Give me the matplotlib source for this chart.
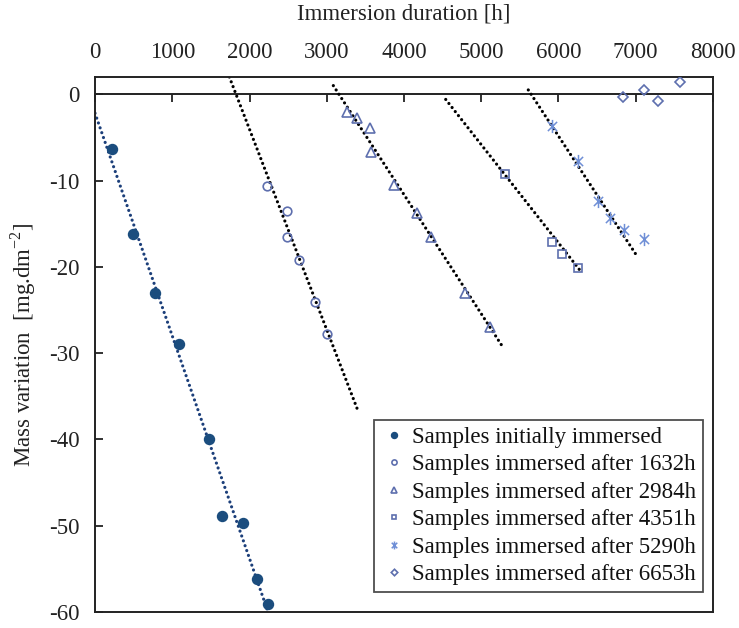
import numpy as np
import matplotlib
matplotlib.use("Agg")
import matplotlib.pyplot as plt
from matplotlib.path import Path

plt.rcParams['font.family'] = ['Liberation Serif', 'DejaVu Serif']
plt.rcParams['mathtext.fontset'] = 'custom'
plt.rcParams['mathtext.rm'] = 'Liberation Serif'
plt.rcParams['axes.unicode_minus'] = False

# mass variation of each batch vs immersion time
x_initial = [216, 488, 777, 1091, 1480, 1640, 1920, 2093, 2235]
y_initial = [-6.3, -16.2, -23.0, -29.0, -39.9, -48.9, -49.7, -56.2, -59.1]

x_1632 = [2222, 2481, 2481, 2645, 2848, 2999]
y_1632 = [-10.6, -13.5, -16.5, -19.2, -24.1, -27.8]

x_2984 = [3258, 3388, 3560, 3573, 3870, 4164, 4350, 4790, 5113]
y_2984 = [-2.1, -2.7, -3.9, -6.7, -10.5, -13.8, -16.5, -23.0, -27.0]

x_4351 = [5307, 5912, 6050, 6257]
y_4351 = [-9.2, -17.1, -18.5, -20.1]

x_5290 = [5912, 6257, 6516, 6667, 6848, 7111]
y_5290 = [-3.7, -7.7, -12.4, -14.3, -15.7, -16.8]

x_6653 = [6839, 7107, 7292, 7573]
y_6653 = [-0.3, 0.46, -0.8, 1.4]

# linear trend lines (start / end points)
trend_x = [[0, 2240], [1739, 3409], [3085, 5294], [4540, 6278], [5609, 7020]]
trend_y = [[-2.2, -60.0], [2.0, -36.8], [1.0, -29.5], [-0.6, -20.4], [0.5, -18.8]]
trend_colors = ['#1c3f7a', 'black', 'black', 'black', 'black']

FS = 16.5

# excel-like asterisk: an X with a vertical bar
star = Path([(-0.7, -0.7), (0.7, 0.7), (-0.7, 0.7), (0.7, -0.7), (0, -1), (0, 1)],
            [Path.MOVETO, Path.LINETO, Path.MOVETO, Path.LINETO, Path.MOVETO, Path.LINETO])

fig = plt.figure(figsize=(7.39, 6.28), dpi=100)
ax = fig.add_axes([0.1286, 0.0255, 0.8362, 0.8519])

dots = (0, (0.01, 1.6))
for tx, ty, c in zip(trend_x, trend_y, trend_colors):
    ax.plot(tx, ty, color=c, linestyle=dots, linewidth=2.3, dash_capstyle='round', zorder=2)

navy = '#1b4d7e'
slate = '#5e6fae'
light = '#6f8fd6'
ax.plot(x_initial, y_initial, 'o', color=navy, markersize=7.2, linestyle='none',
        label='Samples initially immersed', zorder=3)
ax.plot(x_1632, y_1632, 'o', mfc='none', mec=slate, mew=1.2, markersize=6.2, linestyle='none',
        label='Samples immersed after 1632h', zorder=3)
ax.plot(x_2984, y_2984, '^', mfc='none', mec=slate, mew=1.2, markersize=6.8, linestyle='none',
        label='Samples immersed after 2984h', zorder=3)
ax.plot(x_4351, y_4351, 's', mfc='none', mec=slate, mew=1.2, markersize=6.0, linestyle='none',
        label='Samples immersed after 4351h', zorder=3)
ax.plot(x_5290, y_5290, marker=star, color=light, mew=1.1, markersize=9.5, linestyle='none',
        label='Samples immersed after 5290h', zorder=3)
ax.plot(x_6653, y_6653, 'D', mfc='none', mec=slate, mew=1.2, markersize=5.5, linestyle='none',
        label='Samples immersed after 6653h', zorder=3)

ax.set_xlim(0, 8000)
ax.set_ylim(-60, 2)
ax.set_xticks(np.arange(0, 8001, 1000))
ax.set_yticks(np.arange(-60, 1, 10))

# x labels on top, tick marks on the zero line
ax.xaxis.tick_top()
ax.xaxis.set_label_position('top')
ax.tick_params(axis='x', length=0, pad=10, labelsize=FS, colors='#222222')
ax.tick_params(axis='y', direction='in', length=6, width=1.3, pad=11, labelsize=FS,
               right=False, colors='#222222')
for s in ax.spines.values():
    s.set_linewidth(1.4)
    s.set_color('#222222')

zero_axis = ax.secondary_xaxis(0, transform=ax.transData)
zero_axis.set_xticks(np.arange(0, 8001, 1000))
zero_axis.tick_params(direction='out', length=6, width=1.3, labelbottom=False, color='#222222')
zero_axis.spines['bottom'].set_linewidth(1.4)
zero_axis.spines['bottom'].set_color('#222222')

ax.set_xlabel('Immersion duration [h]', fontsize=FS, labelpad=16, color='#222222')
ax.set_ylabel('Mass variation  [mg.dm$^{-2}$]', fontsize=FS, labelpad=8, color='#222222')

leg = ax.legend(loc='lower right', bbox_to_anchor=(0.984, 0.037), fontsize=FS,
                frameon=True, fancybox=False, edgecolor='#222222', markerscale=0.6,
                handlelength=1.1, handletextpad=0.26, labelspacing=0.28,
                borderpad=0.3, borderaxespad=0)
leg.get_frame().set_linewidth(1.3)
for t in leg.get_texts():
    t.set_color('#111111')

fig.savefig('out.png', dpi=100)
